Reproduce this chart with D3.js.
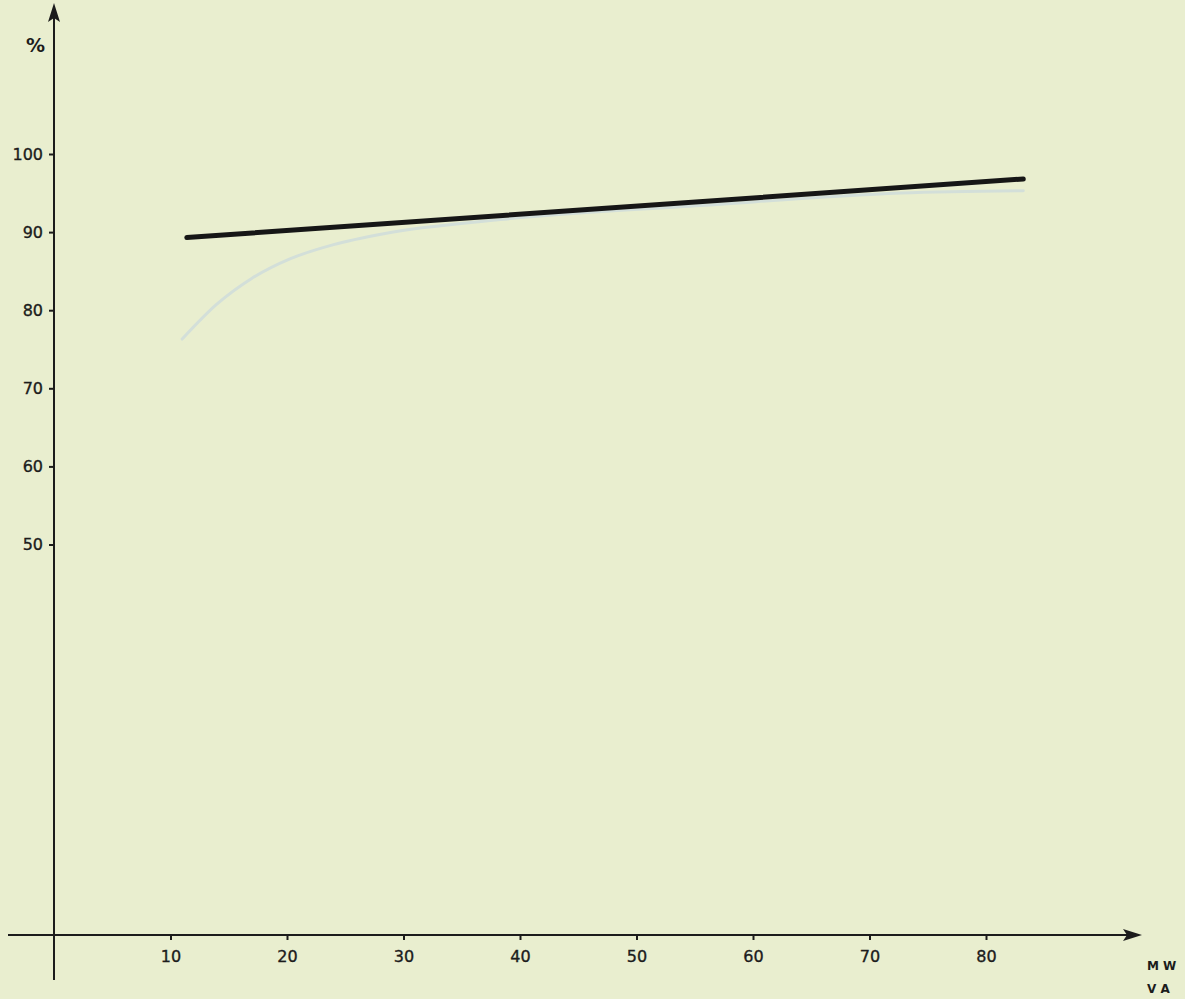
<!DOCTYPE html>
<html>
<head>
<meta charset="utf-8">
<script src="https://cdn.jsdelivr.net/npm/d3@7"></script>
<style>
  html, body { margin: 0; padding: 0; background: #e9eecf; }
  svg { display: block; }
  .tick text { font-family: "DejaVu Sans", sans-serif; font-size: 16px; fill: #1c1c1c; stroke: #1c1c1c; stroke-width: 0.35px; }
</style>
</head>
<body>
<svg id="chart" width="1185" height="999"></svg>
<script>
// Efficiency (%) against rated power (MW / VA)
const xTicks = [10, 20, 30, 40, 50, 60, 70, 80];
const yTicks = [50, 60, 70, 80, 90, 100];

// main efficiency line
const lineX = [11.4, 83.2];
const lineY = [89.3, 96.8];

// faint curve showing through from the reverse side of the sheet
const faintX = [11.0, 14.0, 16.9, 20.3, 24.0, 28.3, 38.3, 55.5, 72.7, 83.2];
const faintY = [76.3, 80.8, 84.0, 86.6, 88.4, 89.8, 91.6, 93.4, 95.0, 95.3];

const svg = d3.select("#chart");

const x = d3.scaleLinear().domain([0, 80]).range([54, 986]);
const y = d3.scaleLinear().domain([0, 100]).range([935, 154]);

const ink = "#1c1c1c";

// faint show-through curve
const faintPts = faintX.map((v, i) => [v, faintY[i]]);
svg.append("path")
  .datum(faintPts)
  .attr("d", d3.line().x(d => x(d[0])).y(d => y(d[1])).curve(d3.curveMonotoneX))
  .attr("fill", "none")
  .attr("stroke", "#d3dfd9")
  .attr("stroke-width", 3)
  .attr("stroke-linecap", "round");

// axis lines with arrowheads
svg.append("line")
  .attr("x1", x(0)).attr("x2", x(0))
  .attr("y1", 14).attr("y2", 980)
  .attr("stroke", ink).attr("stroke-width", 2);
svg.append("path")
  .attr("d", `M${x(0)},3 L${x(0) - 6},22 L${x(0)},18 L${x(0) + 6},22 Z`)
  .attr("fill", ink);

svg.append("line")
  .attr("x1", 8).attr("x2", 1128)
  .attr("y1", y(0)).attr("y2", y(0))
  .attr("stroke", ink).attr("stroke-width", 2);
svg.append("path")
  .attr("d", `M1142,${y(0)} L1123,${y(0) - 6} L1127,${y(0)} L1123,${y(0) + 6} Z`)
  .attr("fill", ink);

// y ticks
const gy = svg.append("g")
  .attr("transform", `translate(${x(0)},0)`)
  .call(d3.axisLeft(y).tickValues(yTicks).tickSize(5).tickPadding(6));
gy.select(".domain").remove();
gy.selectAll(".tick line").attr("stroke", ink).attr("stroke-width", 2);

// x ticks
const gx = svg.append("g")
  .attr("transform", `translate(0,${y(0)})`)
  .call(d3.axisBottom(x).tickValues(xTicks).tickSize(5).tickPadding(11));
gx.select(".domain").remove();
gx.selectAll(".tick line").attr("stroke", ink).attr("stroke-width", 2);

// axis titles
svg.append("text")
  .attr("x", 26).attr("y", 52)
  .attr("font-family", "DejaVu Sans, sans-serif")
  .attr("font-size", 19).attr("font-weight", "bold")
  .attr("fill", ink).text("%");
svg.append("text")
  .attr("x", 1147).attr("y", 970)
  .attr("font-family", "DejaVu Sans, sans-serif")
  .attr("font-size", 12).attr("font-weight", "bold")
  .attr("fill", ink).text("M W");
svg.append("text")
  .attr("x", 1147).attr("y", 993)
  .attr("font-family", "DejaVu Sans, sans-serif")
  .attr("font-size", 12).attr("font-weight", "bold")
  .attr("fill", ink).text("V A");

// efficiency line
const linePts = lineX.map((v, i) => [v, lineY[i]]);
svg.append("path")
  .datum(linePts)
  .attr("d", d3.line().x(d => x(d[0])).y(d => y(d[1])))
  .attr("fill", "none")
  .attr("stroke", "#161616")
  .attr("stroke-width", 5)
  .attr("stroke-linecap", "round");
</script>
</body>
</html>
